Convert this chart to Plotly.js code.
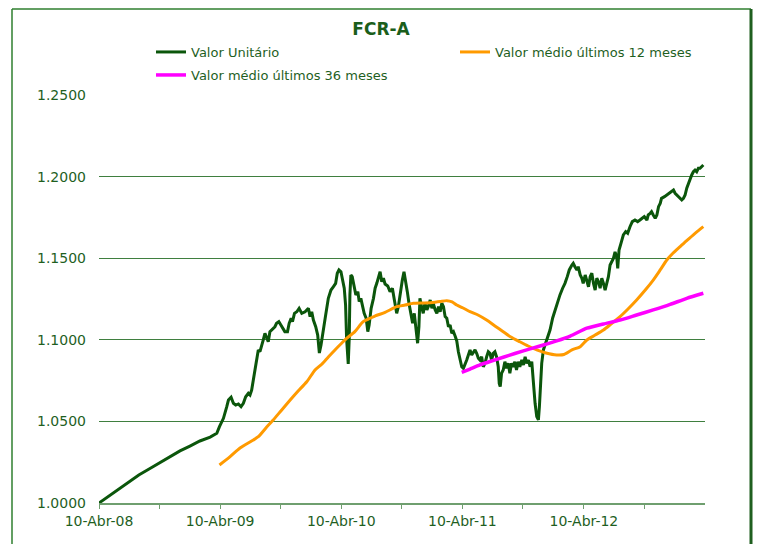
<!DOCTYPE html>
<html>
<head>
<meta charset="utf-8">
<script src="https://cdn.plot.ly/plotly-3.0.1.min.js"></script>
<style>html,body{margin:0;padding:0;background:#fff;}#chart{width:762px;height:544px;}</style>
</head>
<body>
<div id="chart"></div>
<script>
// ---- Data ----
const dates_vu = [
"2008-04-10","2008-05-10","2008-06-09","2008-07-09","2008-08-08","2008-09-08","2008-10-08","2008-11-10","2008-12-10",
"2009-01-09","2009-02-08","2009-03-11","2009-03-31","2009-04-08","2009-04-20","2009-04-30","2009-05-05","2009-05-13","2009-05-20","2009-05-27",
"2009-06-04","2009-06-12","2009-06-19","2009-06-26","2009-07-04","2009-07-09","2009-07-14","2009-07-19","2009-07-24","2009-07-29",
"2009-08-03","2009-08-08","2009-08-13","2009-08-18","2009-08-23","2009-08-28","2009-09-02","2009-09-07","2009-09-12","2009-09-22","2009-09-27",
"2009-10-04","2009-10-10","2009-10-17","2009-10-22","2009-10-30","2009-11-04","2009-11-10","2009-11-14","2009-11-20","2009-11-27",
"2009-12-04","2009-12-12","2009-12-22","2010-01-01","2010-01-06","2010-01-11","2010-01-16","2010-01-23","2010-01-29",
"2010-02-03","2010-02-08","2010-02-15","2010-02-22","2010-03-02","2010-03-10","2010-03-17","2010-03-24","2010-03-29",
"2010-04-03","2010-04-09","2010-04-14","2010-04-19","2010-04-23","2010-04-26","2010-05-01","2010-05-04","2010-05-06","2010-05-09","2010-05-13","2010-05-19","2010-05-24","2010-05-30",
"2010-06-03","2010-06-08","2010-06-14","2010-06-18","2010-06-24","2010-06-29","2010-07-03","2010-07-09","2010-07-16","2010-07-21","2010-07-26","2010-07-31",
"2010-08-05","2010-08-10","2010-08-15","2010-08-20","2010-08-28","2010-09-04","2010-09-11","2010-09-17","2010-09-24","2010-09-29",
"2010-10-04","2010-10-11","2010-10-16","2010-10-21","2010-10-26","2010-10-31","2010-11-06","2010-11-11","2010-11-16","2010-11-21","2010-11-26","2010-11-30",
"2010-12-03","2010-12-08","2010-12-13","2010-12-18","2010-12-24","2010-12-28","2011-01-03","2011-01-08","2011-01-12","2011-01-18","2011-01-23","2011-01-28",
"2011-02-02","2011-02-07","2011-02-12","2011-02-17","2011-02-22","2011-02-27","2011-03-04","2011-03-09","2011-03-14","2011-03-19","2011-03-24","2011-03-29",
"2011-04-03","2011-04-08","2011-04-13","2011-04-18","2011-04-23","2011-04-28","2011-05-03","2011-05-08","2011-05-13","2011-05-18","2011-05-23","2011-05-28",
"2011-06-02","2011-06-07","2011-06-12","2011-06-17","2011-06-22","2011-06-27","2011-07-02","2011-07-07","2011-07-12","2011-07-17","2011-07-22","2011-07-27","2011-07-30",
"2011-08-02","2011-08-06","2011-08-11","2011-08-16","2011-08-21","2011-08-26","2011-08-31","2011-09-05","2011-09-10","2011-09-15","2011-09-20","2011-09-25","2011-09-30",
"2011-10-06","2011-10-11","2011-10-16","2011-10-21","2011-10-26","2011-10-31","2011-11-05","2011-11-10","2011-11-15","2011-11-20","2011-11-25","2011-11-28",
"2011-12-01","2011-12-05","2011-12-10","2011-12-15","2011-12-21","2011-12-30","2012-01-07","2012-01-14","2012-01-21","2012-01-29",
"2012-02-06","2012-02-13","2012-02-20","2012-02-26","2012-03-05","2012-03-09","2012-03-14","2012-03-20","2012-03-24","2012-03-30",
"2012-04-04","2012-04-08","2012-04-14","2012-04-19","2012-04-24","2012-04-29","2012-05-04","2012-05-09","2012-05-14","2012-05-19","2012-05-24","2012-05-29",
"2012-06-03","2012-06-08","2012-06-13","2012-06-18","2012-06-23","2012-06-28","2012-07-03","2012-07-08","2012-07-13","2012-07-18","2012-07-21","2012-07-25","2012-07-31",
"2012-08-07","2012-08-14","2012-08-20","2012-08-27","2012-09-03","2012-09-11","2012-09-19","2012-09-26","2012-10-03","2012-10-09","2012-10-17","2012-10-21","2012-10-27","2012-10-31",
"2012-11-05","2012-11-11","2012-11-16","2012-11-21","2012-11-26","2012-11-30","2012-12-09","2012-12-16","2012-12-23","2012-12-29",
"2013-01-05","2013-01-10","2013-01-15","2013-01-20","2013-01-25","2013-01-30","2013-02-04","2013-02-09","2013-02-14","2013-02-19","2013-02-24",
"2013-03-01","2013-03-06","2013-03-11","2013-03-16","2013-03-21","2013-03-26","2013-03-31","2013-04-05"
];
const valor_unitario = [
1.0000,1.0043,1.0086,1.0129,1.0172,1.0208,1.0245,1.0282,1.0319,
1.0349,1.0380,1.0404,1.0427,1.0468,1.0519,1.0590,1.0631,1.0648,1.0611,1.0600,
1.0607,1.0590,1.0611,1.0651,1.0672,1.0662,1.0692,1.0754,1.0815,1.0896,
1.0938,1.0927,1.0958,1.0999,1.1040,1.1019,1.0988,1.1050,1.1060,1.1080,1.1101,
1.1111,1.1091,1.1071,1.1050,1.1050,1.1101,1.1132,1.1111,1.1162,1.1172,
1.1193,1.1162,1.1172,1.1193,1.1142,1.1172,1.1121,1.1080,1.1029,
1.0919,1.0968,1.1071,1.1152,1.1254,1.1305,1.1325,1.1346,1.1408,
1.1428,1.1417,1.1366,1.1316,1.1213,1.1009,1.0852,1.1009,1.1275,1.1397,1.1387,1.1336,1.1275,1.1295,
1.1234,1.1254,1.1193,1.1162,1.1132,1.1050,1.1091,1.1193,1.1254,1.1316,1.1346,1.1377,
1.1417,1.1356,1.1377,1.1342,1.1330,1.1295,1.1316,1.1244,1.1162,1.1203,
1.1285,1.1366,1.1417,1.1366,1.1295,1.1224,1.1142,1.1101,1.1162,1.1080,1.0979,1.1080,
1.1254,1.1203,1.1162,1.1224,1.1183,1.1203,1.1244,1.1193,1.1224,1.1183,1.1162,1.1203,
1.1172,1.1224,1.1203,1.1142,1.1132,1.1080,1.1091,1.1040,1.1050,1.1023,1.0993,1.0925,
1.0870,1.0835,1.0825,1.0846,1.0876,1.0907,1.0938,1.0907,1.0927,1.0938,1.0917,1.0887,
1.0876,1.0896,1.0835,1.0856,1.0896,1.0927,1.0917,1.0876,1.0917,1.0927,1.0896,1.0835,1.0733,
1.0713,1.0795,1.0815,1.0866,1.0825,1.0856,1.0795,1.0856,1.0835,1.0866,1.0815,1.0866,1.0835,
1.0876,1.0846,1.0896,1.0856,1.0876,1.0835,1.0866,1.0713,1.0611,1.0529,1.0509,1.0590,
1.0713,1.0856,1.0938,1.0968,1.1011,1.1060,1.1134,1.1183,1.1224,1.1275,
1.1316,1.1346,1.1387,1.1428,1.1458,1.1469,1.1448,1.1428,1.1448,1.1397,
1.1377,1.1346,1.1397,1.1366,1.1325,1.1387,1.1408,1.1346,1.1305,1.1377,1.1356,1.1316,
1.1377,1.1346,1.1305,1.1346,1.1387,1.1458,1.1479,1.1499,1.1538,1.1508,1.1438,1.1550,1.1592,
1.1643,1.1663,1.1653,1.1693,1.1724,1.1734,1.1724,1.1734,1.1745,1.1755,1.1734,1.1765,1.1775,1.1785,
1.1765,1.1745,1.1765,1.1816,1.1836,1.1867,1.1877,1.1887,1.1898,1.1908,
1.1918,1.1898,1.1887,1.1877,1.1867,1.1857,1.1867,1.1887,1.1929,1.1960,1.1979,
1.2010,1.2030,1.2040,1.2030,1.2051,1.2051,1.2061,1.2071
];

const dates_12m = [
"2009-04-08","2009-05-10","2009-06-09","2009-07-19","2009-08-03","2009-08-26","2009-09-17","2009-10-10","2009-11-07","2009-12-01","2009-12-27",
"2010-01-21","2010-02-11","2010-03-02","2010-03-22","2010-04-11","2010-04-26","2010-05-21","2010-06-15","2010-07-21","2010-08-20","2010-09-24",
"2010-10-19","2010-11-13","2010-12-09","2011-01-03","2011-02-02","2011-02-22","2011-03-10","2011-03-24","2011-04-12","2011-05-03","2011-05-27",
"2011-06-22","2011-07-17","2011-08-11","2011-09-03","2011-09-30","2011-10-25","2011-11-20","2011-12-18","2012-01-19","2012-02-10","2012-03-05",
"2012-03-30","2012-04-19","2012-05-14","2012-06-08","2012-07-01","2012-07-28","2012-08-21","2012-09-16","2012-10-12","2012-11-05","2012-11-26",
"2012-12-16","2013-01-04","2013-01-25","2013-02-14","2013-03-06","2013-03-20","2013-04-05"
];
const media_12m = [
1.0233,1.0284,1.0337,1.0386,1.0406,1.0460,1.0509,1.0564,1.0631,1.0686,1.0743,
1.0815,1.0852,1.0895,1.0938,1.0979,1.1009,1.1050,1.1111,1.1146,1.1168,1.1203,
1.1213,1.1224,1.1226,1.1227,1.1235,1.1240,1.1232,1.1213,1.1195,1.1172,1.1152,
1.1121,1.1085,1.1050,1.1017,1.0988,1.0962,1.0938,1.0919,1.0907,1.0910,1.0938,
1.0958,1.0999,1.1029,1.1060,1.1097,1.1142,1.1189,1.1244,1.1305,1.1366,1.1428,
1.1489,1.1532,1.1571,1.1608,1.1643,1.1667,1.1693
];

const dates_36m = [
"2011-04-08","2011-05-03","2011-06-02","2011-07-02","2011-08-11","2011-09-15","2011-10-31","2011-12-15","2012-01-19",
"2012-02-29","2012-04-19","2012-06-08","2012-07-28","2012-09-16","2012-11-05","2012-12-26","2013-02-14","2013-04-05"
];
const media_36m = [
1.0800,1.0821,1.0846,1.0867,1.0893,1.0916,1.0944,1.0971,1.0993,
1.1023,1.1071,1.1097,1.1121,1.1152,1.1183,1.1217,1.1254,1.1285
];

const series_names = ["Valor Unitário","Valor médio últimos 12 meses","Valor médio últimos 36 meses"];
const tick_dates = ["2008-04-10","2008-10-09","2009-04-10","2009-10-09","2010-04-10","2010-10-09","2011-04-10","2011-10-09","2012-04-10","2012-10-09"];
const tick_labels = ["10-Abr-08","","10-Abr-09","","10-Abr-10","","10-Abr-11","","10-Abr-12",""];

// ---- Styling ----
const FONT = "DejaVu Sans, Verdana, sans-serif";
const TXT = "#1f5f1f";
const GRID = "#3f7f3f";

const traces = [
  {x: dates_vu, y: valor_unitario, name: series_names[0], type: "scatter", mode: "lines",
   line: {color: "#0b560b", width: 3}, legend: "legend"},
  {x: dates_12m, y: media_12m, name: series_names[1], type: "scatter", mode: "lines",
   line: {color: "#ff9a00", width: 3, shape: "spline", smoothing: 0.6}, legend: "legend2"},
  {x: dates_36m, y: media_36m, name: series_names[2], type: "scatter", mode: "lines",
   line: {color: "#ff00ff", width: 3.5, shape: "spline", smoothing: 0.6}, legend: "legend3"}
];

const legBase = {xref: "container", yref: "container", xanchor: "left", yanchor: "middle",
  bgcolor: "rgba(0,0,0,0)", borderwidth: 0, font: {family: FONT, size: 13, color: TXT}};

const layout = {
  width: 762, height: 544,
  margin: {l: 99, r: 57, t: 95, b: 41, autoexpand: false},
  paper_bgcolor: "#ffffff", plot_bgcolor: "#ffffff",
  font: {family: FONT, color: TXT},
  title: {text: "FCR-A", x: 0.5, xref: "container", xanchor: "center",
          y: 1 - 29/544, yref: "container", yanchor: "middle", automargin: false,
          font: {family: FONT, size: 17, weight: "bold", color: "#1b5e1b"}},
  showlegend: true,
  legend: Object.assign({}, legBase, {x: 151/762, y: 1 - 52/544}),
  legend2: Object.assign({}, legBase, {x: 455/762, y: 1 - 52/544}),
  legend3: Object.assign({}, legBase, {x: 151/762, y: 1 - 75/544}),
  xaxis: {
    type: "date", range: ["2008-04-10", "2013-04-10"], automargin: false,
    tickmode: "array", tickvals: tick_dates, ticktext: tick_labels,
    ticks: "outside", ticklen: 4, tickcolor: "#6f9f6f", tickwidth: 1,
    showgrid: false, zeroline: false,
    showline: true, linecolor: "#6f9f6f", linewidth: 2,
    tickfont: {family: FONT, size: 14, color: TXT}, fixedrange: true
  },
  yaxis: {
    range: [1.0, 1.25], tickmode: "linear", tick0: 1.0, dtick: 0.05, tickformat: ".4f",
    showgrid: true, gridcolor: GRID, gridwidth: 1, automargin: false,
    zeroline: false, showline: false, ticks: "",
    ticklabelstandoff: 12,
    tickfont: {family: FONT, size: 14, color: TXT}, fixedrange: true
  },
  shapes: [
    {type: "line", xref: "paper", yref: "paper", x0: (12-99)/606, x1: (12-99)/606, y0: 1 + (95-9)/408, y1: -0.2, line: {color: "#2f7f2f", width: 1.5}},
    {type: "line", xref: "paper", yref: "paper", x0: (12-99)/606, x1: (751-99)/606, y0: 1 + (95-9)/408, y1: 1 + (95-9)/408, line: {color: "#2f7f2f", width: 1.5}},
    {type: "line", xref: "paper", yref: "paper", x0: (751-99)/606, x1: (751-99)/606, y0: 1 + (95-9)/408, y1: -0.2, line: {color: "#1f5f1f", width: 3}}
  ]
};

Plotly.newPlot("chart", traces, layout, {displayModeBar: false, staticPlot: true});
</script>
</body>
</html>
